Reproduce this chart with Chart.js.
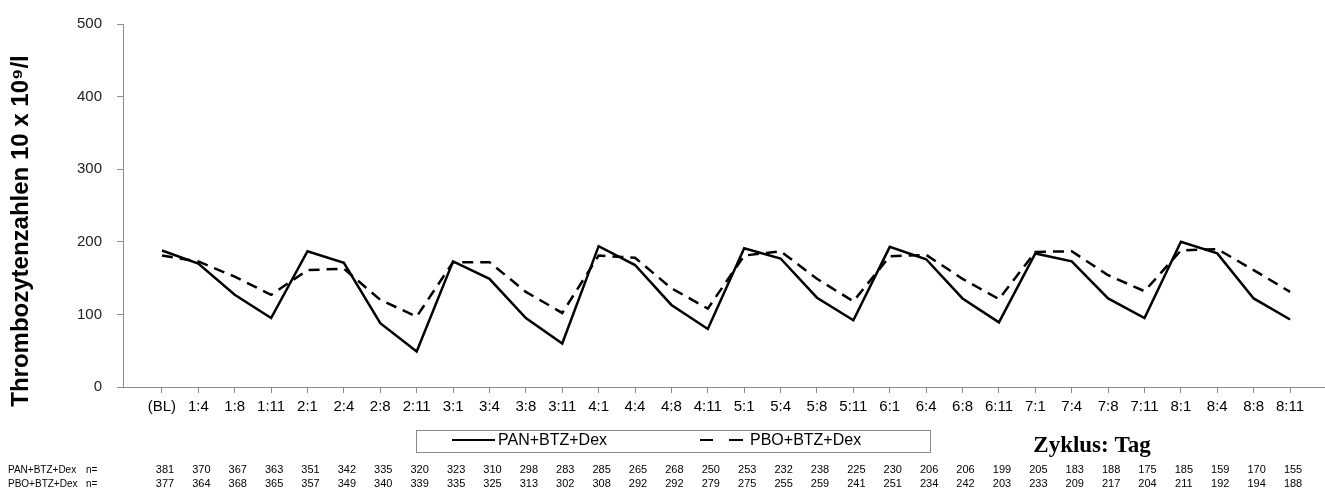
<!DOCTYPE html>
<html>
<head>
<meta charset="utf-8">
<script src="https://cdn.jsdelivr.net/npm/chart.js@4"></script>
<style>
  html, body { margin: 0; padding: 0; background: #fff; }
  canvas { display: block; }
</style>
</head>
<body>
<canvas id="chart" width="1325" height="492"></canvas>
<script>
const labels = ["(BL)", "1:4", "1:8", "1:11", "2:1", "2:4", "2:8", "2:11", "3:1", "3:4", "3:8", "3:11",
    "4:1", "4:4", "4:8", "4:11", "5:1", "5:4", "5:8", "5:11", "6:1", "6:4", "6:8", "6:11",
    "7:1", "7:4", "7:8", "7:11", "8:1", "8:4", "8:8", "8:11"];

const panValues = [188, 170, 127, 95, 187, 171, 88, 49, 173, 149, 95, 60,
    194, 168, 113, 80, 191, 177, 123, 92, 193, 176, 122, 89,
    184, 173, 122, 95, 200, 184, 122, 93];

const pboValues = [181, 173, 152, 127, 161, 163, 120, 97, 172, 172, 131, 102,
    181, 178, 136, 108, 181, 187, 149, 118, 180, 182, 149, 121,
    186, 187, 154, 132, 188, 190, 161, 131];

const panN = [381, 370, 367, 363, 351, 342, 335, 320, 323, 310, 298, 283, 285, 265, 268, 250,
    253, 232, 238, 225, 230, 206, 206, 199, 205, 183, 188, 175, 185, 159, 170, 155];
const pboN = [377, 364, 368, 365, 357, 349, 340, 339, 335, 325, 313, 302, 308, 292, 292, 279,
    275, 255, 259, 241, 251, 234, 242, 203, 233, 209, 217, 204, 211, 192, 194, 188];

const yTicks = [0, 100, 200, 300, 400, 500];

const panLabel = "PAN+BTZ+Dex";
const pboLabel = "PBO+BTZ+Dex";
const yTitle = "Thrombozytenzahlen 10 x 10\u2079/l";
const xTitle = "Zyklus: Tag";

const axisColor = "#8a8a8a";
const sans = "Arial, 'Liberation Sans', Helvetica, sans-serif";

const extras = {
    id: "extras",
    afterDraw(chart) {
        const ctx = chart.ctx;
        const x = chart.scales.x;

        // y title
        ctx.save();
        ctx.translate(21, 231);
        ctx.rotate(-Math.PI / 2);
        ctx.font = "bold 24px " + sans;
        ctx.fillStyle = "#000";
        ctx.textAlign = "center";
        ctx.textBaseline = "middle";
        ctx.fillText(yTitle, 0, 0);
        ctx.restore();

        // legend box
        ctx.save();
        ctx.strokeStyle = axisColor;
        ctx.lineWidth = 1;
        ctx.strokeRect(416.5, 430.5, 514, 22);
        ctx.strokeStyle = "#000";
        ctx.lineWidth = 2;
        ctx.beginPath();
        ctx.moveTo(452, 440);
        ctx.lineTo(495, 440);
        ctx.moveTo(700, 440);
        ctx.lineTo(713, 440);
        ctx.moveTo(729, 440);
        ctx.lineTo(743, 440);
        ctx.stroke();
        ctx.fillStyle = "#000";
        ctx.font = "16px " + sans;
        ctx.textBaseline = "middle";
        ctx.textAlign = "left";
        ctx.fillText(panLabel, 498, 441);
        ctx.fillText(pboLabel, 750, 441);

        // x title
        ctx.font = "bold 23px 'Liberation Serif', 'Times New Roman', serif";
        ctx.textAlign = "center";
        ctx.textBaseline = "alphabetic";
        ctx.fillText(xTitle, 1092, 452);

        // n table
        ctx.font = "10px " + sans;
        ctx.textBaseline = "middle";
        ctx.textAlign = "left";
        ctx.fillText(panLabel, 8, 470);
        ctx.fillText("n=", 86, 470);
        ctx.fillText(pboLabel, 8, 484);
        ctx.fillText("n=", 86, 484);
        ctx.font = "11px " + sans;
        ctx.textAlign = "center";
        panN.forEach((n, i) => ctx.fillText(String(n), x.getPixelForValue(i) + 3, 470));
        pboN.forEach((n, i) => ctx.fillText(String(n), x.getPixelForValue(i) + 3, 484));
        ctx.restore();
    },
};

new Chart(document.getElementById("chart"), {
    type: "line",
    data: {
        datasets: [
            {
                label: panLabel,
                data: panValues.map((v, i) => ({ x: i, y: v })),
                borderColor: "#000",
                borderWidth: 2.5,
                pointRadius: 0,
                tension: 0,
            },
            {
                label: pboLabel,
                data: pboValues.map((v, i) => ({ x: i, y: v })),
                borderColor: "#000",
                borderWidth: 2.5,
                borderDash: [11, 7],
                pointRadius: 0,
                tension: 0,
            },
        ],
    },
    options: {
        responsive: false,
        animation: false,
        devicePixelRatio: 1,
        layout: { padding: { top: 20, right: 0, left: 0, bottom: 0 } },
        plugins: {
            legend: { display: false },
            tooltip: { enabled: false },
        },
        scales: {
            x: {
                type: "linear",
                min: -1.07,
                max: 31.96,
                afterBuildTicks: (scale) => {
                    scale.ticks = labels.map((_, i) => ({ value: i }));
                },
                afterFit: (scale) => {
                    scale.height = 105;
                },
                border: { display: true, color: axisColor, width: 1 },
                grid: {
                    drawOnChartArea: false,
                    drawTicks: true,
                    tickLength: 6,
                    color: axisColor,
                },
                ticks: {
                    autoSkip: false,
                    maxRotation: 0,
                    padding: 5,
                    color: "#000",
                    font: { family: sans, size: 15 },
                    callback: (value) => labels[value] ?? "",
                },
            },
            y: {
                min: 0,
                max: 500,
                afterBuildTicks: (scale) => {
                    scale.ticks = yTicks.map((v) => ({ value: v }));
                },
                afterFit: (scale) => {
                    scale.width = 123;
                },
                border: { display: true, color: axisColor, width: 1 },
                grid: {
                    drawOnChartArea: false,
                    drawTicks: true,
                    tickLength: 6,
                    color: axisColor,
                },
                ticks: {
                    padding: 15,
                    color: "#222",
                    font: { family: sans, size: 15 },
                },
            },
        },
    },
    plugins: [extras],
});
</script>
</body>
</html>
